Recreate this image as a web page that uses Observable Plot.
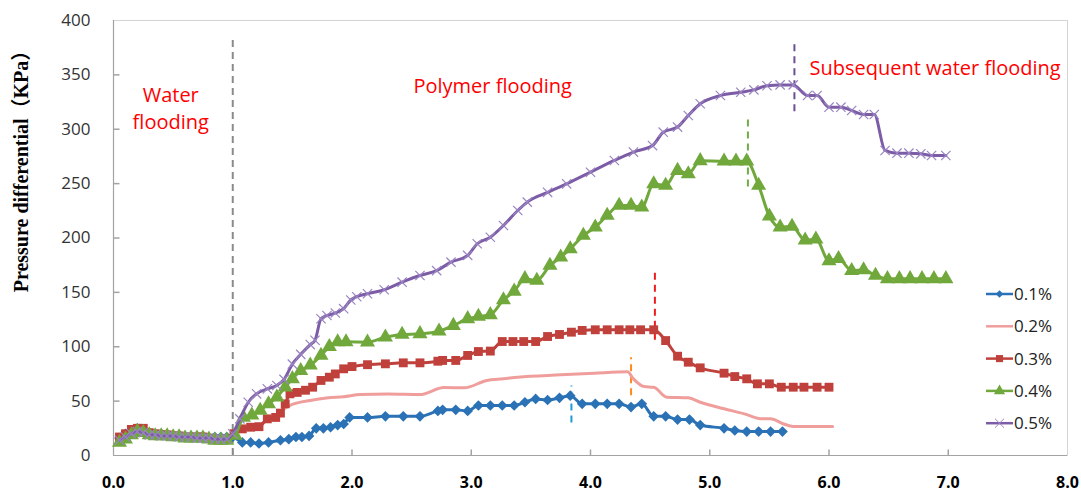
<!DOCTYPE html>
<html><head><meta charset="utf-8">
<script src="https://cdn.jsdelivr.net/npm/d3@7"></script>
<script src="https://cdn.jsdelivr.net/npm/@observablehq/plot@0.6"></script>
<style>
body{margin:0;background:#fff;}
#chart{position:relative;width:1081px;height:492px;}
</style></head><body><div id="chart"></div>
<script>
// ---------- data (PV injected, pressure differential kPa) ----------
const xTicks = [0, 1, 2, 3, 4, 5, 6, 7, 8];
const yTicks = [0, 50, 100, 150, 200, 250, 300, 350, 400];
const seriesNames = ["0.1%", "0.2%", "0.3%", "0.4%", "0.5%"];

const s01 = [[0.05,16],[0.1,20],[0.15,23],[0.2,25],[0.25,24],[0.3,21],[0.35,20],[0.4,20],[0.45,19],[0.5,19],[0.55,19],[0.6,18],[0.65,18],[0.7,18],[0.75,18],[0.8,16],[0.85,17],[0.9,17],[0.95,17],[1.0,17],
 [1.08,12],[1.15,12],[1.22,11],[1.3,12],[1.4,14],[1.47,15],[1.53,17],[1.58,17],[1.64,18],[1.7,25],[1.76,25],[1.82,26],[1.88,28],[1.93,29],[1.98,35],[2.13,35],[2.28,36],[2.43,36],[2.57,36],[2.72,41],[2.76,42],[2.87,42],[2.97,41],[3.06,46],[3.16,46],[3.26,46],[3.36,46],[3.45,49],[3.54,52],[3.64,51],[3.74,53],[3.83,55],[3.93,47.5],[4.04,47.5],[4.14,47.5],[4.24,47.5],[4.34,44.5],[4.43,47.5],[4.53,36],[4.63,36],[4.73,33],[4.83,33],[4.92,28],[5.12,25],[5.21,23],[5.31,22],[5.41,22],[5.51,22],[5.61,22]];

const s02 = [[0.05,17],[0.1,20],[0.15,23],[0.2,24],[0.25,23],[0.3,20],[0.4,19],[0.5,18],[0.6,17],[0.7,17],[0.8,16],[0.9,15],[1.0,18],
 [1.08,24],[1.15,26],[1.22,27],[1.29,33],[1.36,36],[1.42,42],[1.48,46],[1.65,50.6],[1.8,53],[1.93,54],[2.07,56],[2.3,56.5],[2.57,56],[2.77,62.5],[2.94,62.2],[3.13,69],[3.27,70.5],[3.39,72],[3.75,74.2],[4.03,75.7],[4.31,77],[4.36,70.5],[4.45,63.4],[4.53,62.8],[4.64,53.6],[4.82,53],[4.92,49],[5.12,43],[5.29,38.3],[5.43,33.7],[5.51,33.7],[5.62,29],[5.7,26.7],[6.03,26.7]];

const s03 = [[0.05,17],[0.1,20],[0.15,24],[0.2,25],[0.25,25],[0.3,21],[0.35,20],[0.4,19],[0.45,19],[0.5,18],[0.55,18],[0.6,17],[0.65,17],[0.7,17],[0.75,17],[0.8,16],[0.85,15],[0.9,15],[0.95,15],[1.01,20],
 [1.08,24.5],[1.15,26],[1.22,26.5],[1.29,33.7],[1.36,35],[1.4,39],[1.44,47.5],[1.48,56.7],[1.54,58],[1.61,60],[1.67,62.8],[1.74,69],[1.81,72],[1.86,75],[1.93,79.7],[2.0,81.8],[2.13,83.5],[2.28,84.3],[2.43,85.2],[2.57,85.2],[2.72,86.7],[2.76,87.4],[2.87,87.4],[2.97,92],[3.06,95.6],[3.16,96],[3.26,104.8],[3.35,104.8],[3.44,104.8],[3.54,104.8],[3.64,109.4],[3.74,111.3],[3.84,113.4],[3.93,115],[4.04,115.6],[4.14,115.6],[4.24,115.6],[4.33,115.6],[4.42,115.6],[4.53,115.6],[4.63,105.7],[4.73,91.3],[4.82,85.8],[4.92,80.6],[5.12,75.7],[5.21,72.6],[5.31,70.5],[5.4,65.9],[5.5,65.9],[5.6,62.8],[5.7,62.8],[5.79,62.8],[5.9,62.8],[6.0,62.8]];

const s04 = [[0.05,12],[0.1,15],[0.15,19],[0.2,22],[0.25,21],[0.3,19],[0.35,18],[0.4,18],[0.45,18],[0.5,17],[0.55,17],[0.6,16],[0.65,16],[0.7,16],[0.75,16],[0.8,15],[0.85,14],[0.9,14],[0.95,14],[1.02,18.4],
 [1.09,35],[1.16,37],[1.23,41.4],[1.3,47.5],[1.37,53.6],[1.44,62.8],[1.5,70.5],[1.57,78],[1.65,83],[1.74,92],[1.81,100],[1.88,104.5],[1.95,104.5],[2.13,104.2],[2.28,108.8],[2.42,111.3],[2.57,111.9],[2.73,114.3],[2.85,119.5],[2.97,125.7],[3.06,127.8],[3.16,129.4],[3.27,143],[3.36,151],[3.45,162.5],[3.55,161],[3.66,174.7],[3.75,182.4],[3.83,190],[3.94,202.3],[4.04,210],[4.14,220.7],[4.24,229.9],[4.34,229.9],[4.43,228.3],[4.53,249.8],[4.63,248.3],[4.73,262],[4.82,259],[4.92,271],[5.12,270.6],[5.22,270.6],[5.31,270.6],[5.41,248.3],[5.5,220],[5.59,210],[5.69,210.6],[5.8,198],[5.89,199],[6.0,179],[6.08,181],[6.19,170],[6.29,170.7],[6.39,165.5],[6.49,162.5],[6.59,162.5],[6.68,162.5],[6.78,162.5],[6.88,162.5],[6.98,162.5]];

const s05 = [[0.05,14],[0.1,17],[0.15,20],[0.2,22],[0.25,21],[0.3,19],[0.35,19],[0.4,18],[0.45,18],[0.5,18],[0.55,17],[0.6,17],[0.65,17],[0.7,16],[0.75,16],[0.8,16],[0.85,15],[0.9,15],[0.95,15],[1.0,20],
 [1.06,33.7],[1.13,49],[1.2,56.7],[1.29,61.3],[1.37,64.4],[1.43,70],[1.5,84],[1.57,93],[1.65,102],[1.69,106],[1.74,125.7],[1.79,128.7],[1.86,131],[1.93,135],[1.99,143],[2.04,146],[2.13,148.7],[2.27,152.4],[2.42,159.4],[2.57,165.5],[2.71,170],[2.83,177.8],[2.97,184],[3.05,194.7],[3.16,200.7],[3.27,211.5],[3.39,225.3],[3.47,233],[3.64,242],[3.8,249.8],[4.0,260.5],[4.2,271.3],[4.36,279],[4.52,285],[4.61,297.3],[4.73,302],[4.82,312.6],[4.92,323.4],[5.09,331],[5.26,334],[5.37,336.2],[5.48,340],[5.59,340.8],[5.7,340.8],[5.82,331],[5.9,331],[6.0,320.3],[6.1,320.3],[6.19,317.2],[6.29,313.6],[6.38,313.6],[6.47,280.5],[6.57,278],[6.67,278],[6.77,277.4],[6.86,275.9],[6.98,275.9]];

// phase-boundary dashed markers: [x, yFrom, yTo]
const phaseLines = [[1.0,0,383],[3.84,30,64],[4.34,55,90],[4.54,106,168],[5.32,247,311],[5.71,316,379]];
const phaseLineColors = ["#8a8a8a","#1f9bd7","#ff8a1c","#ee1c1c","#70ad47","#6a4f96"];

const annotations = [
  {label: "Water\nflooding", x: 0.48, y: 320.5},
  {label: "Polymer flooding", x: 3.18, y: 341},
  {label: "Subsequent water flooding", x: 6.89, y: 358}
];

// ---------- styles ----------
const colors = ["#2a72b5", "#ef9e9c", "#c0413c", "#71a83c", "#7c5ca6"];
const symbols = ["diamond2", null, "square", "triangle", "times"];
const radii = [4.8, 0, 5, 5.6, 4.3];

const seriesData = [s01, s02, s03, s04, s05];
const xDomain = [xTicks[0], xTicks[xTicks.length - 1]];
const yDomain = [yTicks[0], yTicks[yTicks.length - 1]];

const tickUp = {draw(ctx) { ctx.moveTo(0, 0); ctx.lineTo(0, -6); }};
const tickRight = {draw(ctx) { ctx.moveTo(0, 0); ctx.lineTo(6, 0); }};

const marks = [
  Plot.frame({stroke: "#d4d4d4"}),
  Plot.ruleX([xDomain[0]], {stroke: "#a3a3a3", strokeWidth: 1.2}),
  Plot.ruleY([yDomain[0]], {stroke: "#a3a3a3", strokeWidth: 1.2}),
  Plot.dot(xTicks.slice(1, -1), {x: d => d, y: () => yDomain[0], symbol: tickUp, fill: "none", stroke: "#a3a3a3"}),
  Plot.dot(yTicks.slice(1, -1), {y: d => d, x: () => xDomain[0], symbol: tickRight, fill: "none", stroke: "#a3a3a3"}),
  Plot.axisX({ticks: xTicks, tickSize: 0, tickPadding: 21, tickFormat: d3.format(".1f"), fontSize: 16, fontWeight: "bold", fill: "#000", label: null}),
  Plot.axisY({ticks: yTicks, tickSize: 0, tickPadding: 23, fontSize: 17, fill: "#333", label: null}),
  Plot.ruleX(phaseLines, {x: d => d[0], y1: d => d[1], y2: d => d[2], stroke: (d, i) => phaseLineColors[i], strokeWidth: 2, strokeDasharray: "7,5"})
];

seriesData.forEach((data, i) => {
  marks.push(Plot.line(data, {x: d => d[0], y: d => d[1], stroke: colors[i], strokeWidth: 3, curve: "monotone-x"}));
  if (symbols[i] === "times") {
    marks.push(Plot.dot(data, {x: d => d[0], y: d => d[1], symbol: "times", r: radii[i], stroke: "#9a85c2", strokeWidth: 1.2, fill: "none"}));
  } else if (symbols[i]) {
    marks.push(Plot.dot(data, {x: d => d[0], y: d => d[1], symbol: symbols[i], r: radii[i], fill: colors[i], stroke: "none"}));
  }
});

marks.push(Plot.text(annotations, {x: "x", y: "y", text: "label", fill: "#ff0000", fontSize: 20, lineHeight: 1.35, fontFamily: "Open Sans"}));

const plot = Plot.plot({
  width: 1081, height: 492,
  marginLeft: 113, marginRight: 14, marginTop: 20, marginBottom: 37,
  style: {fontFamily: "Open Sans", background: "#fff", overflow: "visible"},
  x: {domain: xDomain},
  y: {domain: yDomain},
  marks
});

const svg = d3.select(plot);
svg.append("text")
  .attr("transform", "translate(28,166.5) rotate(-90)")
  .attr("text-anchor", "middle")
  .attr("font-family", "'Liberation Serif', 'Noto Sans CJK SC', serif")
  .attr("font-weight", "bold")
  .attr("font-size", 20)
  .attr("fill", "#000")
  .text("Pressure differential（KPa）");

// legend inside plot area
const lg = svg.append("g").attr("font-family", "Open Sans").attr("font-size", 17).attr("text-anchor", "start");
seriesNames.forEach((name, i) => {
  const cy = 294 + i * 32.3;
  const g = lg.append("g").attr("transform", `translate(986,${cy})`);
  g.append("line").attr("x1", 0).attr("x2", 27).attr("stroke", colors[i]).attr("stroke-width", 2.5);
  if (symbols[i] === "diamond2") g.append("path").attr("d", d3.symbol(d3.symbolDiamond2, 36)()).attr("transform", "translate(13.5,0)").attr("fill", colors[i]);
  if (symbols[i] === "square") g.append("path").attr("d", d3.symbol(d3.symbolSquare, 50)()).attr("transform", "translate(13.5,0)").attr("fill", colors[i]);
  if (symbols[i] === "triangle") g.append("path").attr("d", d3.symbol(d3.symbolTriangle, 55)()).attr("transform", "translate(13.5,0)").attr("fill", colors[i]);
  if (symbols[i] === "times") g.append("path").attr("d", d3.symbol(d3.symbolTimes, 55)()).attr("transform", "translate(13.5,0)").attr("fill", "none").attr("stroke", "#9a85c2");
  g.append("text").attr("x", 28).attr("dy", "0.35em").attr("fill", "#222").text(name);
});

document.getElementById("chart").appendChild(plot);
</script></body></html>
